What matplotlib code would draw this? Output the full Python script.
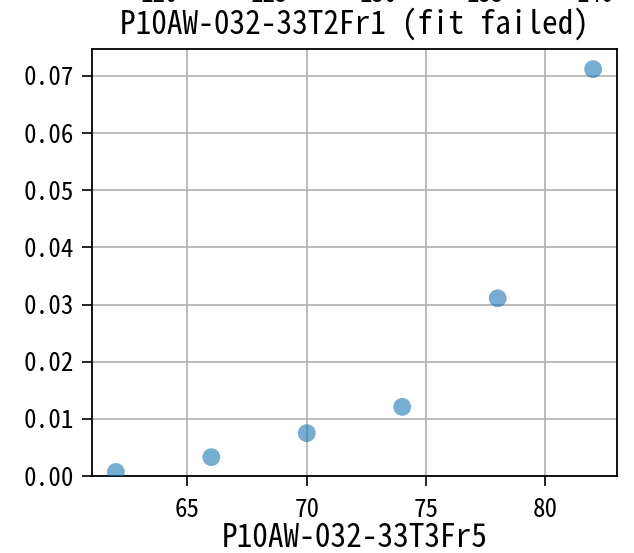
import matplotlib
matplotlib.use("Agg")
import matplotlib.pyplot as plt

plt.rcParams['font.family'] = ['Noto Sans Mono CJK JP', 'Noto Sans CJK JP', 'DejaVu Sans']

x_vals = [62, 66, 70, 74, 78, 82]
y_vals = [0.0007, 0.0033, 0.0075, 0.0121, 0.0311, 0.0712]

# tick labels of the panel above, only their bottoms show
top_labels = ['120', '125', '130', '135', '140']
top_label_x = [159, 269, 378, 485, 595]

title = 'P10AW-032-33T2Fr1 (fit failed)'
xlabel = 'P10AW-032-33T3Fr5'

fig = plt.figure(figsize=(6.34, 5.53), dpi=100)
ax = fig.add_axes([92 / 634, 77 / 553, 525 / 634, 427 / 553])

ax.scatter(x_vals, y_vals, s=165, color='#1f77b4', alpha=0.6, edgecolors='none', zorder=3)
ax.set_ylim(bottom=0)
ax.grid(True, color='#b0b0b0', linewidth=1.2)
ax.set_axisbelow(True)
ax.tick_params(labelsize=18, length=7, width=1.2)
ax.tick_params(axis='y', pad=6)
ax.tick_params(axis='x', pad=9)
for sp in ax.spines.values():
    sp.set_linewidth(1.3)

ax.set_title(title, fontsize=22.5, pad=11)
ax.set_xlabel(xlabel, fontsize=22.5, labelpad=0)

for lab, px in zip(top_labels, top_label_x):
    fig.text(px / 634, 1 - 2 / 553, lab, fontsize=18, ha='center', va='baseline')

fig.savefig('out.png', dpi=100)
